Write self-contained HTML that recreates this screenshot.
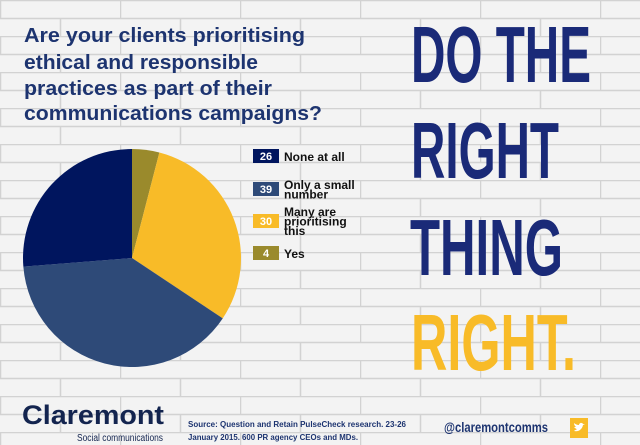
<!DOCTYPE html>
<html><head><meta charset="utf-8"><style>
html,body{margin:0;padding:0;width:640px;height:445px;overflow:hidden;background:#f2f2f2;font-family:"Liberation Sans",sans-serif}
svg{display:block}
</style></head><body>
<svg width="640" height="445" viewBox="0 0 640 445">
<defs>
<pattern id="bricks" width="120" height="36" patternUnits="userSpaceOnUse">
<rect width="120" height="36" fill="#f3f3f3"/>
<path d="M0 0.5H120M0 18.5H120M0.5 0V18M60.5 18V36" stroke="#d2d2d2" stroke-width="1.5"/>
</pattern>
</defs>
<rect width="640" height="445" fill="url(#bricks)"/>
<g fill="#1d3470" font-weight="bold" font-size="20">
<text x="24" y="42" textLength="281" lengthAdjust="spacingAndGlyphs">Are your clients prioritising</text>
<text x="24" y="69" textLength="234" lengthAdjust="spacingAndGlyphs">ethical and responsible</text>
<text x="24" y="95" textLength="248" lengthAdjust="spacingAndGlyphs">practices as part of their</text>
<text x="24" y="120" textLength="298" lengthAdjust="spacingAndGlyphs">communications campaigns?</text>
</g>
<g id="pie"></g>
<g id="legend"></g>
<g font-weight="bold" font-size="80">
<text x="411" y="82" fill="#1a2a78" textLength="180" lengthAdjust="spacingAndGlyphs">DO THE</text>
<text x="411" y="178" fill="#1a2a78" textLength="148" lengthAdjust="spacingAndGlyphs">RIGHT</text>
<text x="410" y="275" fill="#1a2a78" textLength="153" lengthAdjust="spacingAndGlyphs">THING</text>
<text x="411" y="370" fill="#f8bb28" textLength="165" lengthAdjust="spacingAndGlyphs">RIGHT.</text>
</g>
<g>
<text x="22" y="424" font-size="27" font-weight="bold" fill="#13244f" textLength="142" lengthAdjust="spacingAndGlyphs">Claremont</text>
<text x="77" y="441" font-size="10" fill="#13244f" textLength="86" lengthAdjust="spacingAndGlyphs">Social communications</text>
</g>
<g font-size="8" font-weight="bold" fill="#1d3470">
<text x="188" y="427" textLength="218" lengthAdjust="spacingAndGlyphs">Source: Question and Retain PulseCheck research. 23-26</text>
<text x="188" y="440" textLength="170" lengthAdjust="spacingAndGlyphs">January 2015. 600 PR agency CEOs and MDs.</text>
</g>
<text x="444" y="432" font-size="14" font-weight="bold" fill="#1d3470" textLength="104" lengthAdjust="spacingAndGlyphs">@claremontcomms</text>
<rect x="570" y="418" width="18" height="20" fill="#f8bb28"/>
<path d="M574 431c4 1 8-1 9-6l2-1-2 0c-1-2-4-1-4 1-2 0-4-1-5-2 0 2 1 3 2 4-1 0-1 0-2 0 1 1 2 2 3 2-1 1-2 1-3 2z" fill="#fff"/>
</svg>
<script>
const categories = ["None at all","Only a small number","Many are prioritising this","Yes"];
const values = [26,39,30,4];
const colors = ["#00155e","#2e4a78","#f8bb28","#9a8a2c"];
const labelLines = [["None at all"],["Only a small","number"],["Many are","prioritising","this"],["Yes"]];
const NS="http://www.w3.org/2000/svg";
const cx=132, cy=258, r=109;
const total=values.reduce((a,b)=>a+b,0);
const pie=document.getElementById('pie');
const order=[3,2,1,0];
let ang=0;
function pt(a){return [cx+r*Math.sin(a), cy-r*Math.cos(a)];}
order.forEach(i=>{
  const a0=ang, a1=ang+values[i]/total*2*Math.PI; ang=a1;
  const p0=pt(a0), p1=pt(a1);
  const large=(a1-a0)>Math.PI?1:0;
  const path=document.createElementNS(NS,'path');
  path.setAttribute('d',`M${cx} ${cy}L${p0[0]} ${p0[1]}A${r} ${r} 0 ${large} 1 ${p1[0]} ${p1[1]}Z`);
  path.setAttribute('fill',colors[i]);
  
  
  pie.appendChild(path);
});
const leg=document.getElementById('legend');
const boxY=[149,182,214,246];
categories.forEach((c,i)=>{
  const g=document.createElementNS(NS,'g');
  
  
  const rect=document.createElementNS(NS,'rect');
  rect.setAttribute('x',253);rect.setAttribute('y',boxY[i]);rect.setAttribute('width',26);rect.setAttribute('height',14);
  rect.setAttribute('fill',colors[i]);
  g.appendChild(rect);
  const t=document.createElementNS(NS,'text');
  t.setAttribute('x',266);t.setAttribute('y',boxY[i]+11);t.setAttribute('text-anchor','middle');
  t.setAttribute('font-size','11');t.setAttribute('font-weight','bold');t.setAttribute('fill','#fff');
  t.textContent=values[i];
  g.appendChild(t);
  const lines=labelLines[i];
  const startY=boxY[i]+12-(lines.length-1)*5;
  lines.forEach((ln,k)=>{
    const l=document.createElementNS(NS,'text');
    l.setAttribute('x',284);l.setAttribute('y',startY+k*9.5);
    l.setAttribute('font-size','12');l.setAttribute('font-weight','bold');l.setAttribute('fill','#111');
    l.textContent=ln;
    g.appendChild(l);
  });
  leg.appendChild(g);
});
</script>
</body></html>
